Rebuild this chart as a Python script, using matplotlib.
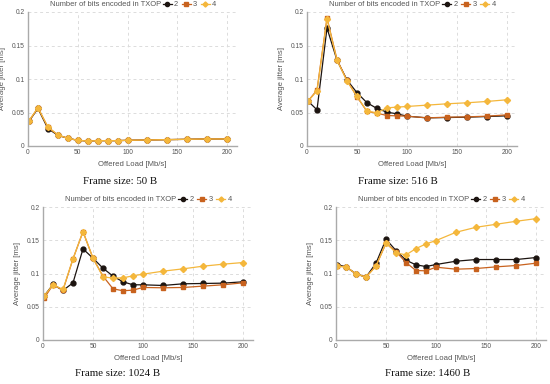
import matplotlib.pyplot as plt
from matplotlib.lines import Line2D

plt.rcParams["font.family"] = ["Liberation Sans", "DejaVu Sans"]

# offered load points (Mb/s)
load = [1, 10, 20, 30, 40, 50, 60, 70, 80, 90, 100, 120, 140, 160, 180, 200]

# average jitter [ms], frame size 50 B
j50_b2 = [0.037, 0.056, 0.026, 0.016, 0.0115, 0.0085, 0.0075, 0.008, 0.008, 0.008, 0.0085, 0.009, 0.0095, 0.01, 0.0105, 0.0105]
j50_b3 = [0.037, 0.057, 0.028, 0.0165, 0.0115, 0.0085, 0.0075, 0.008, 0.008, 0.008, 0.0085, 0.009, 0.0095, 0.01, 0.0105, 0.0105]
j50_b4 = [0.038, 0.057, 0.0285, 0.0165, 0.0115, 0.0085, 0.0075, 0.008, 0.008, 0.008, 0.0085, 0.009, 0.0095, 0.01, 0.0105, 0.0105]

# frame size 516 B
j516_b2 = [0.067, 0.054, 0.176, 0.128, 0.0985, 0.0795, 0.0645, 0.056, 0.0505, 0.048, 0.0445, 0.042, 0.0425, 0.043, 0.044, 0.045]
j516_b3 = [0.067, 0.0835, 0.191, 0.129, 0.098, 0.0735, 0.0515, 0.049, 0.0455, 0.045, 0.0445, 0.042, 0.043, 0.0435, 0.0445, 0.0465]
j516_b4 = [0.067, 0.082, 0.19, 0.128, 0.097, 0.074, 0.052, 0.0495, 0.057, 0.058, 0.059, 0.061, 0.063, 0.0645, 0.0665, 0.069]

# frame size 1024 B
j1024_b2 = [0.066, 0.0835, 0.0745, 0.086, 0.137, 0.123, 0.108, 0.096, 0.0875, 0.083, 0.083, 0.082, 0.0845, 0.085, 0.0855, 0.0875]
j1024_b3 = [0.0625, 0.083, 0.075, 0.122, 0.163, 0.123, 0.096, 0.077, 0.074, 0.075, 0.079, 0.0785, 0.079, 0.081, 0.083, 0.086]
j1024_b4 = [0.066, 0.083, 0.076, 0.122, 0.163, 0.123, 0.095, 0.093, 0.0935, 0.0965, 0.099, 0.1035, 0.107, 0.111, 0.114, 0.1165]

# frame size 1460 B
j1460_b2 = [0.1135, 0.11, 0.0995, 0.0945, 0.1155, 0.1515, 0.1345, 0.12, 0.113, 0.1105, 0.1135, 0.1185, 0.121, 0.121, 0.121, 0.124]
j1460_b3 = [0.111, 0.11, 0.0995, 0.0945, 0.1115, 0.1455, 0.133, 0.1165, 0.1045, 0.104, 0.1095, 0.1065, 0.1075, 0.11, 0.112, 0.1155]
j1460_b4 = [0.111, 0.11, 0.0995, 0.0945, 0.111, 0.146, 0.131, 0.128, 0.1375, 0.1445, 0.1495, 0.162, 0.1695, 0.174, 0.1785, 0.1825]

bits_labels = ["2", "3", "4"]
colors = ["#1c1410", "#c8621e", "#f4b73c"]
markers = ["o", "s", "D"]
msizes = [3.5, 3.5, 3.1]

panels = [
    ("Frame size: 50 B", [j50_b2, j50_b3, j50_b4], (28, 12, 237, 146), 120, 182),
    ("Frame size: 516 B", [j516_b2, j516_b3, j516_b4], (307, 12, 517, 146), 398, 182),
    ("Frame size: 1024 B", [j1024_b2, j1024_b3, j1024_b4], (43, 207, 253, 340), 118, 373),
    ("Frame size: 1460 B", [j1460_b2, j1460_b3, j1460_b4], (336, 207, 546, 340), 428, 373),
]

W, H = 550, 384
fig = plt.figure(figsize=(W / 100, H / 100), dpi=100)

for caption, series, box, cx, cy in panels:
    x0, y0, x1, y1 = box
    ax = fig.add_axes([x0 / W, (H - y1) / H, (x1 - x0) / W, (y1 - y0) / H])
    for vals, c, m, ms in zip(series, colors, markers, msizes):
        ax.plot(load, vals, color=c, marker=m, markersize=ms, linewidth=0.9)
    ax.set_xlim(0, 210)
    ax.set_ylim(0, 0.2)
    ax.set_xticks([0, 50, 100, 150, 200])
    ax.set_yticks([0, 0.05, 0.1, 0.15, 0.2])
    ax.set_yticklabels(["0", "0.05", "0.1", "0.15", "0.2"])
    ax.grid(True, color="#dcdcdc", linestyle=(0, (3, 3)), linewidth=0.7)
    ax.set_axisbelow(True)
    for s in ["top", "right"]:
        ax.spines[s].set_visible(False)
    for s in ["left", "bottom"]:
        ax.spines[s].set_color("#aaaaaa")
        ax.spines[s].set_linewidth(1.0)
    ax.tick_params(length=0, pad=2.5, labelsize=4.8, labelcolor="#555555")
    ax.set_xlabel("Offered Load [Mb/s]", fontsize=5.6, color="#555555", labelpad=3)
    ax.set_ylabel("Average jitter [ms]", fontsize=5.6, color="#555555", labelpad=4)

    # legend: title inline with the entries
    ax.text(0.635, 1.055, "Number of bits encoded in TXOP", transform=ax.transAxes,
            ha="right", va="center", fontsize=5.4, color="#555555")
    handles = [Line2D([], [], color=c, marker=m, markersize=ms - 0.5, linewidth=0.9)
               for c, m, ms in zip(colors, markers, msizes)]
    ax.legend(handles, bits_labels, ncol=3, loc="center left", bbox_to_anchor=(0.64, 1.055),
              frameon=False, fontsize=5.4, handlelength=1.2, handletextpad=0.3,
              columnspacing=0.5, borderaxespad=0, borderpad=0.1, labelcolor="#555555")

    fig.text(cx / W, 1 - cy / H, caption, ha="center", va="center",
             fontsize=7.8, family="Liberation Serif", color="#111111")

fig.savefig("out.png", dpi=100)
